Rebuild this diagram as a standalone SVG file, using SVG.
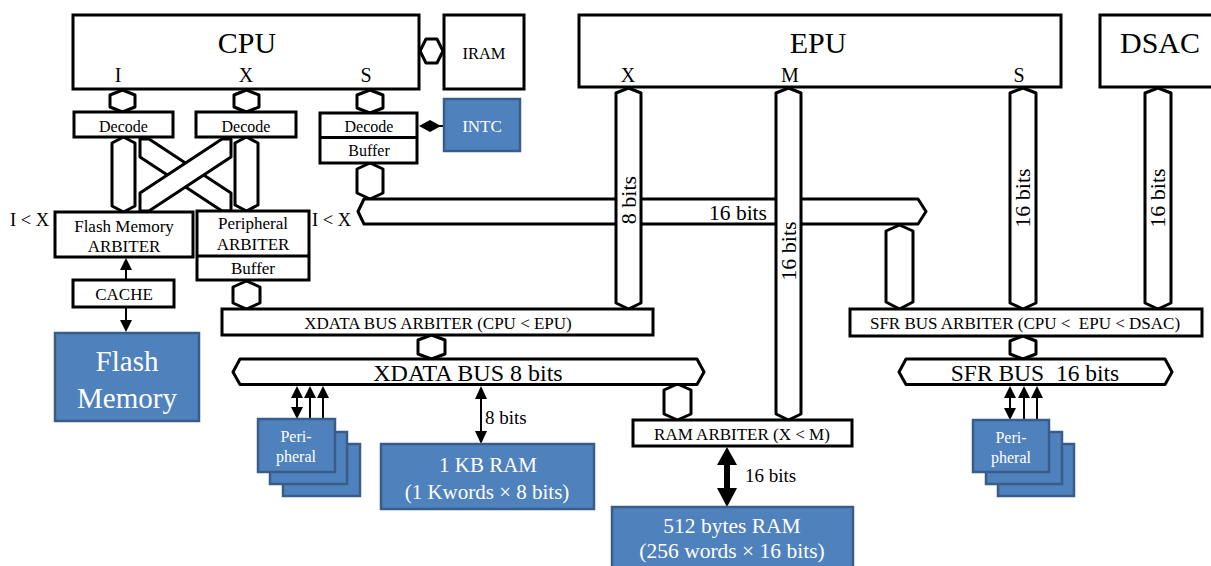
<svg xmlns="http://www.w3.org/2000/svg" width="1211" height="566" viewBox="0 0 1211 566">
<style>
.t{font-family:"Liberation Serif","Times New Roman",serif;fill:#000}
.w{fill:#fff}
.m{text-anchor:middle}
.box{fill:#fff;stroke:#000;stroke-width:3}
.blue{fill:#4F81BD;stroke:#385D8A;stroke-width:2.5}
.bus{fill:#fff;stroke:#000;stroke-width:3;stroke-linejoin:round}
.ln{stroke:#000;stroke-width:2;fill:none}
.ah{fill:#000}
</style>
<rect width="1211" height="566" fill="#fff"/>

<g id="connectors">
  <!-- CPU-IRAM -->
  <polygon class="bus" points="420,51 426,39 437,39 443,51 437,63 426,63"/>
  <!-- hexes under CPU -->
  <polygon class="bus" points="122.5,90 135,95 135,107 122.5,112 110,107 110,95"/>
  <polygon class="bus" points="246.5,90 259,95 259,107 246.5,112 234,107 234,95"/>
  <polygon class="bus" points="370,90 383,95 383,108 370,113 357,108 357,95"/>
  <!-- long hexes -->
  <polygon class="bus" points="123.5,137 135,143 135,206 123.5,212 112,206 112,143"/>
  <polygon class="bus" points="246.5,137 258,143 258,205 246.5,211 235,205 235,143"/>
  <!-- crossing bands -->
  <polygon class="bus" points="231,193 149,139 140,139 140,157 222,211 231,211"/>
  <polygon class="bus" points="140,193 222,139 231,139 231,157 149,211 140,211"/>
  <!-- S buffer to horizontal bus -->
  <polygon class="bus" points="370,163 383,169 383,193 370,199 357,193 357,169"/>
  <!-- horizontal 16-bit bus -->
  <polygon class="bus" points="358,211.5 364,199 918,199 926,211.5 918,224 364,224"/>
  <!-- EPU buses -->
  <polygon class="bus" points="628.5,88 641,93 641,303 628.5,309 616,303 616,93"/>
  <polygon class="bus" points="788.5,88 801,93 801,414 788.5,420 776,414 776,93"/>
  <polygon class="bus" points="1023,88 1036,93 1036,303 1023,309 1010,303 1010,93"/>
  <polygon class="bus" points="1158,88 1171,93 1171,303 1158,309 1145,303 1145,93"/>
  <!-- hbus to SFR arbiter -->
  <polygon class="bus" points="899.5,225 913,231 913,302 899.5,309 886,302 886,231"/>
  <!-- peripheral buffer to XDATA arbiter -->
  <polygon class="bus" points="246.5,281 260,287 260,303 246.5,309 233,303 233,287"/>
  <!-- XDATA arbiter to XDATA bus -->
  <polygon class="bus" points="431.5,335 445,340 445,354 431.5,359 418,354 418,340"/>
  <!-- SFR arbiter to SFR bus -->
  <polygon class="bus" points="1023,336 1036,341 1036,354 1023,359 1010,354 1010,341"/>
  <!-- XDATA bus to RAM arbiter -->
  <polygon class="bus" points="677.5,384 691,390 691,414 677.5,420 664,414 664,390"/>
  <!-- buses -->
  <polygon class="bus" points="233,372 240,359 697,359 704,372 697,384.5 240,384.5"/>
  <polygon class="bus" points="899,372 906,359 1165,359 1172,372 1165,384.5 906,384.5"/>

  <!-- INTC diamond -->
  <polygon class="ah" points="419,126 430,120 441,126 430,132"/>
  <line class="ln" x1="438" y1="126" x2="446" y2="126"/>

  <!-- Flash arbiter / cache arrows -->
  <line class="ln" x1="126" y1="266" x2="126" y2="280"/>
  <polygon class="ah" points="126,258 132,270 120,270"/>
  <line class="ln" x1="126" y1="307" x2="126" y2="322"/>
  <polygon class="ah" points="126,332 132,320 120,320"/>

  <!-- left peripheral arrows -->
  <line class="ln" x1="297" y1="392" x2="297" y2="412"/>
  <polygon class="ah" points="297,386 303,398 291,398"/>
  <polygon class="ah" points="297,419 303,407 291,407"/>
  <line class="ln" x1="310" y1="392" x2="310" y2="419"/>
  <polygon class="ah" points="310,386 316,398 304,398"/>
  <line class="ln" x1="323" y1="392" x2="323" y2="419"/>
  <polygon class="ah" points="323,386 329,398 317,398"/>

  <!-- right peripheral arrows -->
  <line class="ln" x1="1010" y1="392" x2="1010" y2="412"/>
  <polygon class="ah" points="1010,386 1016,398 1004,398"/>
  <polygon class="ah" points="1010,420 1016,408 1004,408"/>
  <line class="ln" x1="1024" y1="392" x2="1024" y2="420"/>
  <polygon class="ah" points="1024,386 1030,398 1018,398"/>
  <line class="ln" x1="1037" y1="392" x2="1037" y2="420"/>
  <polygon class="ah" points="1037,386 1043,398 1031,398"/>

  <!-- 8 bits arrow -->
  <line class="ln" x1="481" y1="394" x2="481" y2="436"/>
  <polygon class="ah" points="481,386 487,399 475,399"/>
  <polygon class="ah" points="481,444 487,431 475,431"/>

  <!-- 16 bits thick arrow -->
  <line stroke="#000" stroke-width="6" x1="727" y1="460" x2="727" y2="492"/>
  <polygon class="ah" points="727,447 737,465 717,465"/>
  <polygon class="ah" points="727,507 737,488 717,488"/>

  <!-- bus labels -->
  <text class="t m" font-size="22" transform="rotate(-90 629 200)" x="629" y="207">8 bits</text>
  <text class="t m" font-size="22" transform="rotate(-90 789 251)" x="789" y="258">16 bits</text>
  <text class="t m" font-size="22" transform="rotate(-90 1023 198)" x="1023" y="205">16 bits</text>
  <text class="t m" font-size="22" transform="rotate(-90 1158 198)" x="1158" y="205">16 bits</text>
  <text class="t m" font-size="21.5" x="738" y="220">16 bits</text>
  <text class="t m" font-size="24" x="468" y="381">XDATA BUS 8 bits</text>
  <text class="t m" font-size="23.5" x="1035" y="381" xml:space="preserve">SFR BUS  16 bits</text>
  <text class="t" font-size="19" x="485" y="424">8 bits</text>
  <text class="t" font-size="19" x="745" y="482">16 bits</text>
  <text class="t" font-size="18.5" x="10" y="226">I &lt; X</text>
  <text class="t" font-size="18.5" x="312" y="226">I &lt; X</text>
</g>

<g id="cpu">
  <rect class="box" x="73" y="15" width="346" height="74"/>
  <text class="t m" font-size="30" x="247" y="53">CPU</text>
  <text class="t m" font-size="20" x="118" y="82">I</text>
  <text class="t m" font-size="20" x="246" y="82">X</text>
  <text class="t m" font-size="20" x="366" y="82">S</text>
</g>
<g id="iram">
  <rect class="box" x="444" y="15" width="80" height="74"/>
  <text class="t m" font-size="16.5" x="484" y="59">IRAM</text>
</g>
<g id="intc">
  <rect class="blue" x="444" y="99" width="76" height="52"/>
  <text class="t w m" font-size="17" x="482" y="132">INTC</text>
</g>
<g id="decode-i">
  <rect class="box" x="74" y="112" width="99" height="25"/>
  <text class="t m" font-size="16" x="123.5" y="132">Decode</text>
</g>
<g id="decode-x">
  <rect class="box" x="196" y="112" width="100" height="25"/>
  <text class="t m" font-size="16" x="246" y="132">Decode</text>
</g>
<g id="decode-s">
  <rect class="box" x="320" y="113" width="97" height="50"/>
  <line stroke="#000" stroke-width="3" x1="320" y1="137.5" x2="417" y2="137.5"/>
  <text class="t m" font-size="16" x="369" y="132">Decode</text>
  <text class="t m" font-size="16" x="369" y="156">Buffer</text>
</g>
<g id="flash-arbiter">
  <rect class="box" x="55" y="212" width="138" height="45"/>
  <text class="t m" font-size="17" x="124" y="232">Flash Memory</text>
  <text class="t m" font-size="17" x="124" y="252">ARBITER</text>
</g>
<g id="peripheral-arbiter">
  <rect class="box" x="197" y="211" width="112" height="69"/>
  <line stroke="#000" stroke-width="3" x1="197" y1="256" x2="309" y2="256"/>
  <text class="t m" font-size="17" x="253" y="229">Peripheral</text>
  <text class="t m" font-size="17" x="253" y="250">ARBITER</text>
  <text class="t m" font-size="17" x="253" y="274">Buffer</text>
</g>
<g id="cache">
  <rect class="box" x="73" y="280" width="101" height="27"/>
  <text class="t m" font-size="17" x="124" y="300">CACHE</text>
</g>
<g id="flash-memory">
  <rect class="blue" x="55" y="333" width="144" height="88"/>
  <text class="t w m" font-size="29" x="127" y="371">Flash</text>
  <text class="t w m" font-size="29" x="127" y="408">Memory</text>
</g>
<g id="xdata-arbiter">
  <rect class="box" x="222" y="309" width="431" height="26"/>
  <text class="t m" font-size="17" x="438" y="329">XDATA BUS ARBITER (CPU &lt; EPU)</text>
</g>
<g id="peripheral-left">
  <rect class="blue" x="283" y="444" width="77" height="52"/>
  <rect class="blue" x="270" y="432" width="77" height="52"/>
  <rect class="blue" x="258" y="419" width="77" height="53"/>
  <text class="t w m" font-size="16" x="296" y="442">Peri-</text>
  <text class="t w m" font-size="16" x="296" y="462">pheral</text>
</g>
<g id="ram-1kb">
  <rect class="blue" x="381" y="444" width="213" height="65"/>
  <text class="t w m" font-size="21" x="488" y="472">1 KB RAM</text>
  <text class="t w m" font-size="21" x="487" y="499">(1 Kwords × 8 bits)</text>
</g>
<g id="ram-arbiter">
  <rect class="box" x="633" y="420" width="219" height="26"/>
  <text class="t m" font-size="17" x="742" y="440">RAM ARBITER (X &lt; M)</text>
</g>
<g id="ram-512">
  <rect class="blue" x="612" y="507" width="241" height="70"/>
  <text class="t w m" font-size="21.5" x="732" y="533">512 bytes RAM</text>
  <text class="t w m" font-size="21.5" x="732" y="558">(256 words × 16 bits)</text>
</g>
<g id="epu">
  <rect class="box" x="579" y="15" width="482" height="72"/>
  <text class="t m" font-size="30" x="818" y="53">EPU</text>
  <text class="t m" font-size="20" x="628" y="82">X</text>
  <text class="t m" font-size="20" x="790" y="82">M</text>
  <text class="t m" font-size="20" x="1019" y="82">S</text>
</g>
<g id="dsac">
  <rect class="box" x="1100" y="15" width="125" height="72"/>
  <text class="t m" font-size="30" x="1160" y="53">DSAC</text>
</g>
<g id="sfr-arbiter">
  <rect class="box" x="850" y="309" width="352" height="27"/>
  <text class="t m" font-size="17" x="1025" y="329" xml:space="preserve">SFR BUS ARBITER (CPU &lt;  EPU &lt; DSAC)</text>
</g>
<g id="peripheral-right">
  <rect class="blue" x="998" y="444" width="76" height="52"/>
  <rect class="blue" x="986" y="432" width="76" height="52"/>
  <rect class="blue" x="973" y="420" width="76" height="52"/>
  <text class="t w m" font-size="16" x="1011" y="443">Peri-</text>
  <text class="t w m" font-size="16" x="1011" y="463">pheral</text>
</g>
</svg>
